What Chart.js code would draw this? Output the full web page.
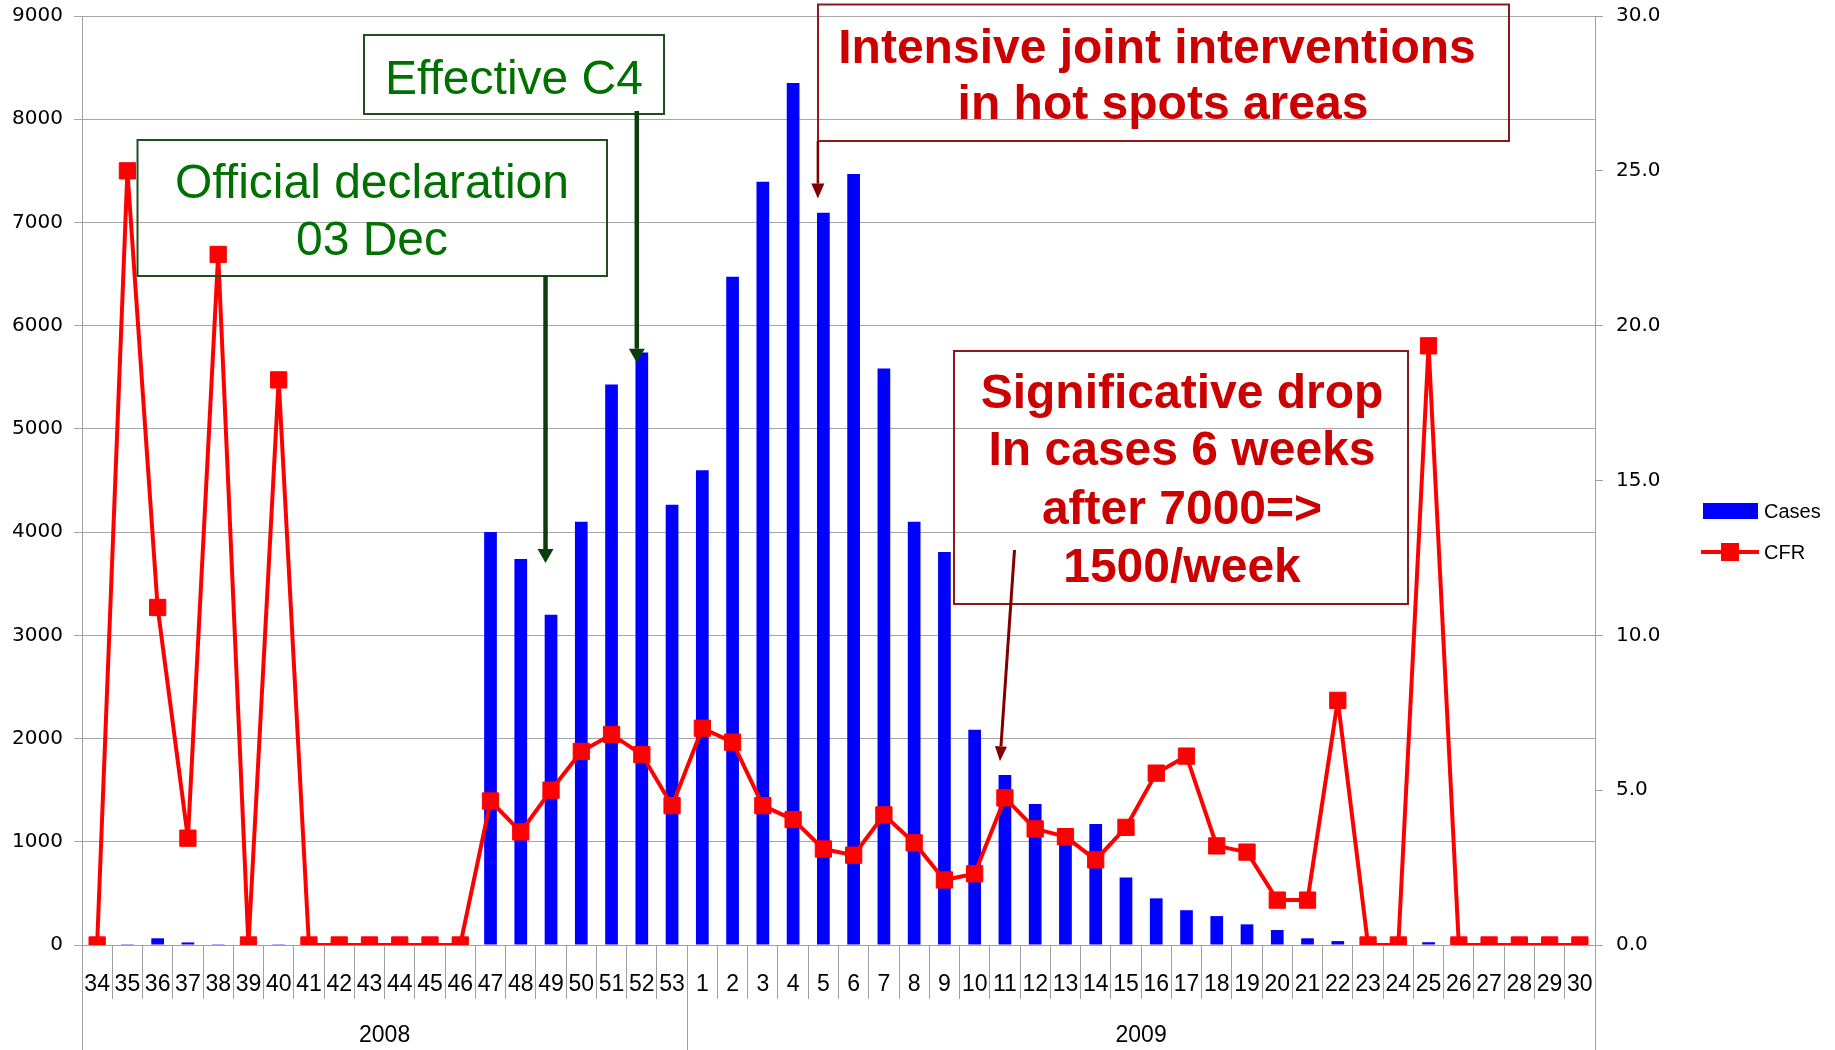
<!DOCTYPE html>
<html><head><meta charset="utf-8">
<script src="https://cdn.jsdelivr.net/npm/chart.js@4.4.1/dist/chart.umd.min.js"></script>
<style>html,body{margin:0;padding:0;background:#fff;}canvas{display:block;}</style>
</head><body>
<canvas id="c" width="1835" height="1050"></canvas>
<script>
// ---- data ----
const weeks2008 = ['34','35','36','37','38','39','40','41','42','43','44','45','46','47','48','49','50','51','52','53'];
const weeks2009 = ['1','2','3','4','5','6','7','8','9','10','11','12','13','14','15','16','17','18','19','20','21','22','23','24','25','26','27','28','29','30'];
const weekLabels = weeks2008.concat(weeks2009);
const years = ['2008', '2009'];
const cases2008 = [0,8,65,25,8,0,8,0,0,0,0,0,0,4000,3740,3200,4100,5430,5740,4265];
const cases2009 = [4600,6475,7395,8350,7095,7470,5585,4100,3808,2085,1647,1365,1060,1172,655,452,337,280,200,145,65,38,0,0,27,0,0,0,0,0];
const cfr2008 = [0,25.0,10.9,3.45,22.3,0,18.25,0,0,0,0,0,0,4.65,3.65,5.0,6.25,6.8,6.15,4.5];
const cfr2009 = [7.0,6.55,4.5,4.05,3.1,2.9,4.2,3.3,2.1,2.3,4.75,3.75,3.5,2.75,3.8,5.55,6.1,3.2,3.0,1.45,1.45,7.9,0,0,19.35,0,0,0,0,0];
const cases = cases2008.concat(cases2009);
const cfr = cfr2008.concat(cfr2009);
const casesTicks = [0,1000,2000,3000,4000,5000,6000,7000,8000,9000];
const cfrTicks = [0,5,10,15,20,25,30];
const seriesNames = ['Cases', 'CFR'];

// ---- annotations (layout) ----
const notes = [
  {box:[137.5,140,469.5,136], color:'#007000', border:'#1f4f1f', font:'48px "Liberation Sans"',
   lines:[['Official declaration',372,198],['03 Dec',372,255]],
   arrow:{idx:15, val:3700, dx:-5.5, fromY:276, color:'#0d3d0d', w:4.5, head:[16,14]}},
  {box:[364,35,300,79], color:'#007000', border:'#1f4f1f', font:'48px "Liberation Sans"',
   lines:[['Effective C4',514,94]],
   arrow:{idx:18, val:5640, dx:-5, fromY:111, color:'#0d3d0d', w:4.5, head:[16,14]}},
  {box:[818,4.5,691,136.5], color:'#cc0000', border:'#8c1a1a', font:'bold 48px "Liberation Sans"',
   lines:[['Intensive joint interventions',1157,63],['in hot spots areas',1163,119]],
   arrow:{idx:24, val:7231, dx:-5.5, fromY:141, color:'#800000', w:2.5, head:[13,15]}},
  {box:[954,351,454,253], color:'#cc0000', border:'#8c1a1a', font:'bold 48px "Liberation Sans"',
   lines:[['Significative drop',1182,408],['In cases 6 weeks',1182,465],['after 7000=>',1182,524],['1500/week',1182,582]],
   arrow:{idx:30, val:1780, dx:-5, fromX:1014.5, fromY:550, color:'#800000', w:3, head:[12,15]}}
];

function drawArrow(ctx, x1, y1, x2, y2, color, w, head){
  const ang = Math.atan2(y2-y1, x2-x1);
  const hl = head[1], hw = head[0]/2;
  const bx = x2 - Math.cos(ang)*hl, by = y2 - Math.sin(ang)*hl;
  ctx.save();
  ctx.strokeStyle = color; ctx.fillStyle = color; ctx.lineWidth = w;
  ctx.beginPath(); ctx.moveTo(x1,y1); ctx.lineTo(bx,by); ctx.stroke();
  ctx.beginPath();
  ctx.moveTo(x2,y2);
  ctx.lineTo(bx + Math.sin(ang)*hw, by - Math.cos(ang)*hw);
  ctx.lineTo(bx - Math.sin(ang)*hw, by + Math.cos(ang)*hw);
  ctx.closePath(); ctx.fill();
  ctx.restore();
}

const extras = {
  id:'extras',
  afterDraw(chart){
    const ctx = chart.ctx;
    const xs = chart.scales.x, ys = chart.scales.y;
    const bottom = chart.chartArea.bottom;
    ctx.save();
    // year separators
    ctx.strokeStyle = '#a0a0a0'; ctx.lineWidth = 1;
    const n1 = weeks2008.length, n = weekLabels.length;
    [-0.5, n1-0.5, n-0.5].forEach(v=>{
      const x = Math.round(xs.getPixelForValue(v))+0.5;
      ctx.beginPath(); ctx.moveTo(x, bottom); ctx.lineTo(x, 1050); ctx.stroke();
    });
    // year labels
    ctx.fillStyle = '#000'; ctx.font = '23px "Liberation Sans"';
    ctx.textAlign = 'center'; ctx.textBaseline = 'middle';
    const yc = [(xs.getPixelForValue(-0.5)+xs.getPixelForValue(n1-0.5))/2,
                (xs.getPixelForValue(n1-0.5)+xs.getPixelForValue(n-0.5))/2];
    years.forEach((t,i)=>ctx.fillText(t, yc[i], 1036));
    // legend
    ctx.fillStyle = '#0000ff'; ctx.fillRect(1703, 503, 55, 16);
    ctx.strokeStyle = '#ff0000'; ctx.lineWidth = 4;
    ctx.beginPath(); ctx.moveTo(1701, 552); ctx.lineTo(1759, 552); ctx.stroke();
    ctx.fillStyle = '#ff0000'; ctx.fillRect(1721, 543, 18, 18);
    ctx.fillStyle = '#000'; ctx.font = '20px "Liberation Sans"'; ctx.textAlign = 'left';
    ctx.fillText(seriesNames[0], 1764, 512);
    ctx.fillText(seriesNames[1], 1764, 553);
    // annotations
    notes.forEach(nt=>{
      ctx.strokeStyle = nt.border; ctx.lineWidth = 2;
      ctx.strokeRect(nt.box[0], nt.box[1], nt.box[2], nt.box[3]);
      ctx.fillStyle = nt.color; ctx.font = nt.font; ctx.textAlign = 'center'; ctx.textBaseline = 'alphabetic';
      nt.lines.forEach(l=>ctx.fillText(l[0], l[1], l[2]));
      const a = nt.arrow;
      const tx = xs.getPixelForValue(a.idx) + a.dx, ty = ys.getPixelForValue(a.val);
      const fx = a.fromX !== undefined ? a.fromX : tx;
      drawArrow(ctx, fx, a.fromY, tx, ty, a.color, a.w, a.head);
    });
    ctx.restore();
  }
};

new Chart(document.getElementById('c'), {
  data: {
    labels: weekLabels,
    datasets: [
      {type:'line', label:seriesNames[1], data:cfr, yAxisID:'y1', order:0,
       borderColor:'#ff0000', backgroundColor:'#ff0000', borderWidth:4, tension:0,
       borderJoinStyle:'round',
       pointStyle:'rect', pointRadius:11.5, pointBorderWidth:1,
       pointBackgroundColor:'#ff0000', pointBorderColor:'#ff0000'},
      {type:'bar', label:seriesNames[0], data:cases, yAxisID:'y', order:1,
       backgroundColor:'#0000ff', barPercentage:0.42, categoryPercentage:1.0}
    ]
  },
  options: {
    responsive:false, animation:false, devicePixelRatio:1,
    layout:{padding:{top:16, left:0, right:0, bottom:0}},
    plugins:{legend:{display:false}, tooltip:{enabled:false}},
    scales:{
      x:{
        offset:true,
        grid:{offset:true, drawOnChartArea:false, drawTicks:true, tickLength:54, color:'#a0a0a0', lineWidth:1},
        border:{color:'#a0a0a0', width:1},
        ticks:{font:{family:'Liberation Sans', size:23}, color:'#000', padding:-28, maxRotation:0, minRotation:0, autoSkip:false},
        afterFit(s){ s.height = 105; s.paddingLeft = 0; s.paddingRight = 0; }
      },
      y:{
        position:'left', min:0, max:9000,
        grid:{color:'#a6a6a6', lineWidth:1, tickLength:8},
        border:{color:'#a0a0a0', width:1},
        ticks:{font:{family:'DejaVu Sans', size:20}, color:'#000', padding:11, callback:v=>String(v)},
        afterBuildTicks(s){ s.ticks = casesTicks.map(v=>({value:v})); },
        afterFit(s){ s.width = 82; s.paddingTop = 0; s.paddingBottom = 0; }
      },
      y1:{
        position:'right', min:0, max:30,
        grid:{drawOnChartArea:false, color:'#a0a0a0', lineWidth:1, tickLength:8},
        border:{color:'#a0a0a0', width:1},
        ticks:{font:{family:'DejaVu Sans', size:20}, color:'#000', padding:13, callback:v=>Number(v).toFixed(1)},
        afterBuildTicks(s){ s.ticks = cfrTicks.map(v=>({value:v})); },
        afterFit(s){ s.width = 240; s.paddingTop = 0; s.paddingBottom = 0; }
      }
    }
  },
  plugins:[extras]
});
</script>
</body></html>
